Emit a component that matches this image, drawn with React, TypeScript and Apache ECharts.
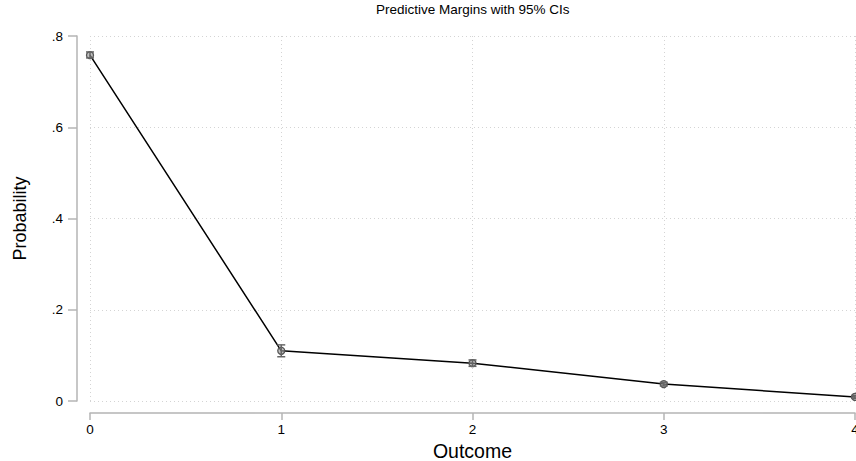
import React, { useEffect, useRef } from "react";
import * as echarts from "echarts";

const outcomes = [0, 1, 2, 3, 4];
const margins = [0.758, 0.110, 0.083, 0.037, 0.009];
const ciLow = [0.752, 0.097, 0.076, 0.033, 0.006];
const ciHigh = [0.765, 0.123, 0.090, 0.041, 0.012];
const yTickLabels: Record<string, string> = { "0": "0", "0.2": ".2", "0.4": ".4", "0.6": ".6", "0.8": ".8" };

export default function App() {
  const ref = useRef<HTMLDivElement>(null);
  useEffect(() => {
    if (!ref.current) return;
    const chart = echarts.init(ref.current, undefined, { renderer: "svg" });
    const font = "Liberation Sans, Arial, sans-serif";
    const axisGray = "#b4b4b4";
    chart.setOption({
      animation: false,
      backgroundColor: "#ffffff",
      title: {
        text: "Predictive Margins with 95% CIs",
        left: 376,
        top: 2,
        padding: 0,
        textStyle: { fontFamily: font, fontSize: 13.5, fontWeight: "normal", color: "#000" },
      },
      grid: { left: 90, right: 1, top: 36, bottom: 60, containLabel: false, outerBoundsMode: "none" },
      xAxis: {
        type: "value",
        min: 0,
        max: 4,
        interval: 1,
        offset: 12,
        name: "Outcome",
        nameLocation: "middle",
        nameGap: 25,
        nameTextStyle: { fontFamily: font, fontSize: 19.5, color: "#000", verticalAlign: "top" },
        axisLine: { show: true, onZero: false, lineStyle: { color: axisGray, width: 1.5 } },
        axisTick: { show: true, length: 7, lineStyle: { color: axisGray, width: 1.5 } },
        axisLabel: { fontFamily: font, fontSize: 13.5, color: "#000", margin: 9 },
        splitLine: { show: true, lineStyle: { color: "#d4d4d4", type: [1, 3], width: 1 } },
      },
      yAxis: {
        type: "value",
        min: 0,
        max: 0.8,
        interval: 0.2,
        offset: 13,
        name: "Probability",
        nameLocation: "middle",
        nameGap: 48,
        nameRotate: 90,
        nameTextStyle: { fontFamily: font, fontSize: 18, color: "#000" },
        axisLine: { show: true, onZero: false, lineStyle: { color: axisGray, width: 1.5 } },
        axisTick: { show: true, length: 9, lineStyle: { color: axisGray, width: 1.5 } },
        axisLabel: {
          fontFamily: font,
          fontSize: 13.5,
          color: "#000",
          margin: 14,
          formatter: (v: number) => yTickLabels[String(Math.round(v * 10) / 10)] ?? String(v),
        },
        splitLine: { show: true, lineStyle: { color: "#d4d4d4", type: [1, 3], width: 1 } },
      },
      series: [
        {
          type: "line",
          data: outcomes.map((x, i) => [x, margins[i]]),
          lineStyle: { color: "#000", width: 1.5 },
          symbol: "circle",
          symbolSize: 7,
          itemStyle: { color: "rgba(150,150,150,0.6)", borderColor: "#555", borderWidth: 1.3 },
          z: 3,
        },
        {
          type: "custom",
          data: outcomes.map((x, i) => [x, ciLow[i], ciHigh[i]]),
          renderItem: (params: any, api: any) => {
            const x = api.value(0);
            const lo = api.coord([x, api.value(1)]);
            const hi = api.coord([x, api.value(2)]);
            const cw = 4;
            const style = { stroke: "#666", lineWidth: 1.5 };
            return {
              type: "group",
              children: [
                { type: "line", shape: { x1: lo[0], y1: lo[1], x2: hi[0], y2: hi[1] }, style },
                { type: "line", shape: { x1: lo[0] - cw, y1: lo[1], x2: lo[0] + cw, y2: lo[1] }, style },
                { type: "line", shape: { x1: hi[0] - cw, y1: hi[1], x2: hi[0] + cw, y2: hi[1] }, style },
              ],
            };
          },
          z: 4,
        },
      ],
    });
    return () => chart.dispose();
  }, []);
  return <div ref={ref} style={{ position: "fixed", left: 0, top: 0, width: 856, height: 461 }} />;
}
